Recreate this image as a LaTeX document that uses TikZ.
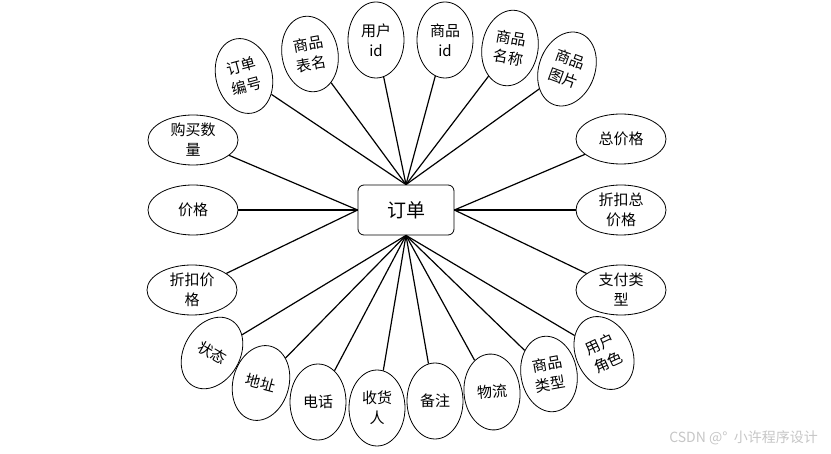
\documentclass[tikz,border=0pt]{standalone}
\usepackage{fontspec}
\newfontfamily\cjk{Noto Sans CJK SC}
\usetikzlibrary{shapes.geometric}
\begin{document}
\begin{tikzpicture}[x=1pt,y=-1pt,
  attr/.style={draw, ellipse, line width=0.8pt, inner sep=0pt, align=center, font=\cjk\fontsize{15}{20}\selectfont},
  vat/.style={attr, minimum width=56pt, minimum height=76pt},
  hat/.style={attr, minimum width=90pt, minimum height=50pt},
  link/.style={line width=1.2pt}]
\useasboundingbox (0,0) rectangle (831,454);
\node[draw, rounded corners=6pt, minimum width=96pt, minimum height=50pt, line width=0.8pt, font=\cjk\fontsize{19}{22}\selectfont] (main) at (406,210) {订单};
% top
\node[vat, rotate=15]  (e1) at (244,76) {订单\\编号};
\node[vat, rotate=10]  (e2) at (310,54) {商品\\表名};
\node[vat]             (e3) at (376,40) {用户\\id};
\node[vat]             (e4) at (445,40) {商品\\id};
\node[vat, rotate=-10] (e5) at (510,48) {商品\\名称};
\node[vat, rotate=-20] (e6) at (567,69) {商品\\图片};
% right
\node[hat] (r1) at (621,139) {总价格};
\node[hat] (r2) at (621,210) {折扣总\\价格};
\node[hat] (r3) at (621,290) {支付类\\型};
% left
\node[hat] (l1) at (193,140) {购买数\\量};
\node[hat] (l2) at (193,210) {价格};
\node[hat] (l3) at (192,290) {折扣价\\格};
% bottom
\node[vat, rotate=-30] (b1) at (212,353) {状态};
\node[vat, rotate=-15] (b2) at (261,383) {地址};
\node[vat]             (b3) at (318,402) {电话};
\node[vat]             (b4) at (377,408) {收货\\人};
\node[vat]             (b5) at (435,401) {备注};
\node[vat, rotate=5]   (b6) at (492,392) {物流};
\node[vat, rotate=10]  (b7) at (549,374) {商品\\类型};
\node[vat, rotate=25]  (b8) at (604,353) {用户\\角色};
% connectors
\foreach \n in {e1,e2,e3,e4,e5,e6} \draw[link] (main.north) -- (\n);
\foreach \n in {b1,b2,b3,b4,b5,b6,b7,b8} \draw[link] (main.south) -- (\n);
\foreach \n in {l1,l2,l3} \draw[link] (main.west) -- (\n);
\foreach \n in {r1,r2,r3} \draw[link] (main.east) -- (\n);
% watermark
\node[anchor=east, text=gray!45, inner sep=0pt, font=\cjk\fontsize{14}{16}\selectfont] (wm) at (818,438) {CSDN @°\ \ 小许程序设计};
\end{tikzpicture}
\end{document}
